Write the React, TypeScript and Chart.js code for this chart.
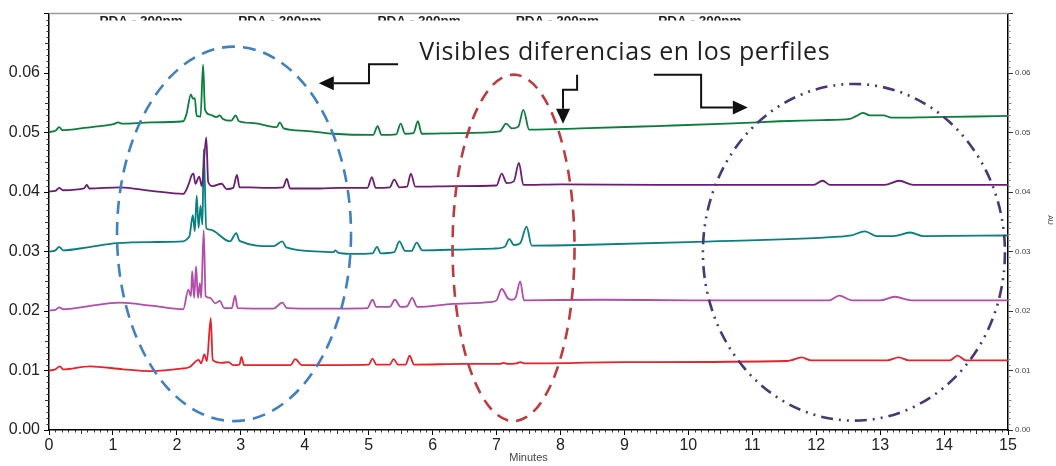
import React, { useEffect, useRef } from 'react';
import { Chart, registerables } from 'chart.js';

Chart.register(...registerables);

const W = 1056;
const H = 466;

// ---- data: [minutes, AU] ----
const greenTrace: [number, number][] = [
  [0.00, 0.0501], [0.10, 0.0503], [0.16, 0.0509], [0.21, 0.0504], [0.50, 0.0507], [0.80, 0.0511],
  [1.01, 0.0514], [1.08, 0.0517], [1.15, 0.0515], [1.60, 0.0517], [2.10, 0.0519], [2.15, 0.0531],
  [2.22, 0.0564], [2.25, 0.0557], [2.28, 0.0558], [2.31, 0.0528], [2.37, 0.0527], [2.41, 0.0614],
  [2.44, 0.0539], [2.52, 0.0530], [2.62, 0.0526], [2.67, 0.0529], [2.72, 0.0523], [2.85, 0.0520],
  [2.92, 0.0529], [2.97, 0.0519], [3.20, 0.0516], [3.56, 0.0509], [3.61, 0.0517], [3.67, 0.0507],
  [4.00, 0.0503], [4.45, 0.0498], [5.07, 0.0496], [5.14, 0.0511], [5.20, 0.0496], [5.43, 0.0497],
  [5.50, 0.0515], [5.57, 0.0498], [5.70, 0.0499], [5.77, 0.0519], [5.83, 0.0498], [6.40, 0.0499],
  [7.05, 0.0502], [7.15, 0.0515], [7.24, 0.0507], [7.34, 0.0510], [7.42, 0.0538], [7.51, 0.0505],
  [8.31, 0.0507], [9.50, 0.0511], [10.60, 0.0515], [11.43, 0.0519], [12.10, 0.0521], [12.53, 0.0523],
  [12.63, 0.0528], [12.73, 0.0533], [12.84, 0.0529], [13.05, 0.0529], [13.18, 0.0525], [13.83, 0.0526],
  [14.50, 0.0527], [15.00, 0.0528],
];

const purpleTrace: [number, number][] = [
  [0.00, 0.0401], [0.10, 0.0402], [0.16, 0.0407], [0.22, 0.0403], [0.55, 0.0406], [0.59, 0.0412],
  [0.63, 0.0406], [1.11, 0.0408], [1.60, 0.0402], [2.10, 0.0397], [2.18, 0.0412], [2.23, 0.0428],
  [2.26, 0.0431], [2.29, 0.0414], [2.35, 0.0426], [2.39, 0.0410], [2.46, 0.0492], [2.49, 0.0417],
  [2.56, 0.0410], [2.70, 0.0414], [2.78, 0.0405], [2.88, 0.0407], [2.94, 0.0429], [2.98, 0.0408],
  [3.13, 0.0408], [3.40, 0.0407], [3.66, 0.0408], [3.72, 0.0422], [3.77, 0.0406], [4.24, 0.0406],
  [4.55, 0.0407], [4.98, 0.0407], [5.05, 0.0425], [5.11, 0.0407], [5.33, 0.0408], [5.40, 0.0421],
  [5.48, 0.0408], [5.60, 0.0409], [5.66, 0.0431], [5.73, 0.0409], [6.40, 0.0410], [7.00, 0.0411],
  [7.08, 0.0431], [7.16, 0.0415], [7.27, 0.0418], [7.35, 0.0449], [7.42, 0.0412], [8.00, 0.0413],
  [9.50, 0.0412], [11.96, 0.0412], [12.10, 0.0419], [12.22, 0.0412], [13.07, 0.0412], [13.30, 0.0419],
  [13.52, 0.0412], [15.00, 0.0412],
];

const tealTrace: [number, number][] = [
  [0.00, 0.0300], [0.10, 0.0302], [0.16, 0.0308], [0.22, 0.0302], [0.60, 0.0307], [1.06, 0.0314],
  [1.60, 0.0316], [2.10, 0.0317], [2.17, 0.0322], [2.20, 0.0327], [2.25, 0.0361], [2.28, 0.0334],
  [2.31, 0.0394], [2.34, 0.0340], [2.37, 0.0377], [2.40, 0.0345], [2.42, 0.0472], [2.46, 0.0339],
  [2.52, 0.0337], [2.83, 0.0317], [2.93, 0.0331], [2.98, 0.0318], [3.51, 0.0309], [3.65, 0.0317],
  [3.71, 0.0307], [4.24, 0.0300], [4.45, 0.0299], [4.48, 0.0302], [4.52, 0.0298], [4.71, 0.0296],
  [5.06, 0.0297], [5.13, 0.0308], [5.19, 0.0297], [5.40, 0.0299], [5.48, 0.0317], [5.57, 0.0301],
  [5.67, 0.0301], [5.75, 0.0315], [5.84, 0.0302], [6.26, 0.0303], [6.95, 0.0305], [7.13, 0.0308],
  [7.20, 0.0321], [7.27, 0.0311], [7.37, 0.0314], [7.47, 0.0342], [7.55, 0.0310], [8.31, 0.0311],
  [10.00, 0.0316], [12.37, 0.0325], [12.55, 0.0327], [12.76, 0.0334], [12.95, 0.0326], [13.21, 0.0326],
  [13.47, 0.0332], [13.68, 0.0326], [15.00, 0.0327],
];

const magentaTrace: [number, number][] = [
  [0.00, 0.0201], [0.10, 0.0202], [0.16, 0.0206], [0.22, 0.0203], [0.60, 0.0208], [1.11, 0.0214],
  [1.60, 0.0209], [2.10, 0.0203], [2.18, 0.0236], [2.22, 0.0225], [2.24, 0.0267], [2.27, 0.0222],
  [2.30, 0.0275], [2.33, 0.0222], [2.36, 0.0247], [2.38, 0.0222], [2.42, 0.0336], [2.45, 0.0225],
  [2.52, 0.0222], [2.60, 0.0213], [2.67, 0.0217], [2.74, 0.0205], [2.86, 0.0205], [2.91, 0.0226],
  [2.95, 0.0205], [3.51, 0.0204], [3.65, 0.0214], [3.72, 0.0205], [4.24, 0.0204], [4.98, 0.0205],
  [5.06, 0.0219], [5.12, 0.0207], [5.33, 0.0207], [5.41, 0.0219], [5.50, 0.0207], [5.60, 0.0208],
  [5.68, 0.0222], [5.76, 0.0207], [6.32, 0.0212], [6.90, 0.0215], [7.00, 0.0218], [7.08, 0.0237],
  [7.18, 0.0221], [7.24, 0.0219], [7.30, 0.0223], [7.37, 0.0250], [7.43, 0.0218], [8.62, 0.0219],
  [10.00, 0.0218], [12.20, 0.0218], [12.36, 0.0226], [12.56, 0.0218], [13.00, 0.0218], [13.23, 0.0224],
  [13.49, 0.0218], [15.00, 0.0218],
];

const redTrace: [number, number][] = [
  [0.00, 0.0100], [0.10, 0.0102], [0.17, 0.0107], [0.22, 0.0102], [0.64, 0.0107], [1.16, 0.0102],
  [1.58, 0.0099], [2.06, 0.0103], [2.20, 0.0106], [2.34, 0.0118], [2.38, 0.0112], [2.43, 0.0127],
  [2.47, 0.0116], [2.53, 0.0188], [2.56, 0.0118], [2.70, 0.0113], [2.81, 0.0114], [2.88, 0.0109],
  [2.98, 0.0110], [3.01, 0.0123], [3.05, 0.0109], [3.78, 0.0109], [3.85, 0.0119], [3.96, 0.0109],
  [5.00, 0.0110], [5.06, 0.0120], [5.12, 0.0110], [5.33, 0.0110], [5.39, 0.0119], [5.46, 0.0110],
  [5.58, 0.0110], [5.64, 0.0125], [5.71, 0.0110], [6.50, 0.0111], [7.05, 0.0111], [7.11, 0.0113],
  [7.18, 0.0111], [7.31, 0.0112], [7.37, 0.0114], [7.45, 0.0112], [9.00, 0.0114], [11.54, 0.0116],
  [11.60, 0.0117], [11.77, 0.0122], [11.92, 0.0117], [13.11, 0.0117], [13.29, 0.0122], [13.45, 0.0117],
  [14.09, 0.0117], [14.21, 0.0125], [14.34, 0.0117], [15.00, 0.0117],
];

const seriesColors = ['#0b7d3e', '#6c1c74', '#0a7f7f', '#b24ca8', '#e8212b'];
const seriesData = [greenTrace, purpleTrace, tealTrace, magentaTrace, redTrace];

// ---- tick labels / texts ----
const yTickLabels = ['0.00', '0.01', '0.02', '0.03', '0.04', '0.05', '0.06'];
const xTitle = 'Minutes';
const yRightTitle = 'AU';
const pdaLabel = 'PDA - 200nm';
const pdaLabelTimes = [1.44, 3.61, 5.79, 7.95, 10.18];
const calloutText = 'Visibles diferencias en los perfiles';
const calloutAnchor: [number, number] = [5.79, 0.0622];

// ---- annotation shapes in data units ----
const ellipses = [
  { cx: 2.894, rx: 1.83, cy: 0.03297, ry: 0.03147, color: '#3f80c2', dash: [13, 8] },
  { cx: 7.266, rx: 0.954, cy: 0.03062, ry: 0.02912, color: '#c0393f', dash: [12, 8] },
  { cx: 12.59, rx: 2.362, cy: 0.02987, ry: 0.0283, color: '#4b3678', dash: [12, 6, 2, 6, 2, 6] },
];

const arrows: [number, number][][] = [
  [[5.46, 0.0615], [5.005, 0.0615], [5.005, 0.0583], [4.22, 0.0583]],
  [[8.26, 0.0597], [8.26, 0.0572], [8.04, 0.0572], [8.04, 0.0515]],
  [[9.46, 0.0597], [10.2, 0.0597], [10.2, 0.0542], [10.93, 0.0542]],
];

const FONT = '"Liberation Sans", Arial, sans-serif';

const overlayPlugin = {
  id: 'overlay',
  afterDatasetsDraw(chart: any) {
    const ctx: CanvasRenderingContext2D = chart.ctx;
    const xs = chart.scales.x;
    const ys = chart.scales.y;
    const px = (t: number) => xs.getPixelForValue(t);
    const py = (v: number) => ys.getPixelForValue(v);

    ellipses.forEach((e) => {
      ctx.save();
      ctx.beginPath();
      ctx.setLineDash(e.dash);
      ctx.strokeStyle = e.color;
      ctx.lineWidth = 2.6;
      const cx = px(e.cx);
      const cy = py(e.cy);
      ctx.ellipse(cx, cy, Math.abs(px(e.cx + e.rx) - cx), Math.abs(py(e.cy + e.ry) - cy), 0, 0, Math.PI * 2);
      ctx.stroke();
      ctx.restore();
    });

    arrows.forEach((path) => {
      const pts = path.map(([t, v]) => [px(t), py(v)]);
      const [tx, ty] = pts[pts.length - 1];
      const [bx, by] = pts[pts.length - 2];
      const len = Math.hypot(tx - bx, ty - by);
      const ux = (tx - bx) / len;
      const uy = (ty - by) / len;
      const headLen = 15;
      const headW = 7;
      const baseX = tx - ux * headLen;
      const baseY = ty - uy * headLen;
      ctx.save();
      ctx.strokeStyle = '#111';
      ctx.fillStyle = '#111';
      ctx.lineWidth = 2;
      ctx.lineJoin = 'miter';
      ctx.beginPath();
      ctx.moveTo(pts[0][0], pts[0][1]);
      for (let i = 1; i < pts.length - 1; i++) ctx.lineTo(pts[i][0], pts[i][1]);
      ctx.lineTo(baseX, baseY);
      ctx.stroke();
      ctx.beginPath();
      ctx.moveTo(tx, ty);
      ctx.lineTo(baseX - uy * headW, baseY + ux * headW);
      ctx.lineTo(baseX + uy * headW, baseY - ux * headW);
      ctx.closePath();
      ctx.fill();
      ctx.restore();
    });

    ctx.save();
    ctx.fillStyle = '#231f20';
    ctx.font = '25px "Open Sans", "Noto Sans", sans-serif';
    (ctx as any).letterSpacing = '0.6px';
    ctx.textBaseline = 'alphabetic';
    ctx.textAlign = 'left';
    ctx.fillText(calloutText, px(calloutAnchor[0]), py(calloutAnchor[1]), 411);
    ctx.restore();
  },
  afterDraw(chart: any) {
    const ctx: CanvasRenderingContext2D = chart.ctx;
    const xs = chart.scales.x;
    const ys = chart.scales.y;
    const { left, right, top, bottom } = chart.chartArea;

    // top border
    ctx.save();
    ctx.strokeStyle = '#9a9a9a';
    ctx.lineWidth = 1.5;
    ctx.beginPath();
    ctx.moveTo(left, top);
    ctx.lineTo(right, top);
    ctx.stroke();

    // minor ticks
    ctx.lineWidth = 1;
    ctx.strokeStyle = '#333';
    for (let i = 0; i <= 70; i++) {
      if (i % 10 === 0) continue;
      const y = Math.round(ys.getPixelForValue(i / 1000)) + 0.5;
      const l = i % 5 === 0 ? 4 : 2.5;
      ctx.beginPath();
      ctx.moveTo(left - l, y);
      ctx.lineTo(left, y);
      ctx.stroke();
    }
    for (let i = 0; i <= 150; i++) {
      if (i % 10 === 0) continue;
      const x = Math.round(xs.getPixelForValue(i / 10)) + 0.5;
      const l = i % 5 === 0 ? 4 : 2.5;
      ctx.beginPath();
      ctx.moveTo(x, bottom);
      ctx.lineTo(x, bottom + l);
      ctx.stroke();
    }
    ctx.strokeStyle = '#888';
    for (let i = 0; i <= 70; i++) {
      if (i % 10 === 0) continue;
      const y = Math.round(ys.getPixelForValue(i / 1000)) + 0.5;
      const l = i % 5 === 0 ? 3.5 : 2.5;
      ctx.beginPath();
      ctx.moveTo(right, y);
      ctx.lineTo(right + l, y);
      ctx.stroke();
    }

    // PDA labels (cut at the top)
    ctx.beginPath();
    ctx.rect(left, 0, right - left, 20.5);
    ctx.clip();
    ctx.fillStyle = '#222';
    ctx.font = `bold 13.5px ${FONT}`;
    ctx.textAlign = 'center';
    ctx.textBaseline = 'alphabetic';
    pdaLabelTimes.forEach((t) => ctx.fillText(pdaLabel, xs.getPixelForValue(t), 24.7));
    ctx.restore();

    // axis titles
    ctx.save();
    ctx.fillStyle = '#444';
    ctx.font = `11px ${FONT}`;
    ctx.textAlign = 'center';
    ctx.textBaseline = 'middle';
    ctx.fillText(xTitle, (left + right) / 2, 458);
    ctx.translate(1050, 220);
    ctx.rotate(Math.PI / 2);
    ctx.font = `7px ${FONT}`;
    ctx.fillText(yRightTitle, 0, 0);
    ctx.restore();
  },
};

export default function App() {
  const ref = useRef<HTMLCanvasElement | null>(null);

  useEffect(() => {
    if (!ref.current) return;
    const chart = new Chart(ref.current, {
      type: 'line',
      data: {
        datasets: seriesData.map((s, i) => ({
          data: s.map(([x, y]) => ({ x, y })),
          borderColor: seriesColors[i],
          borderWidth: 1.8,
          pointRadius: 0,
          fill: false,
          cubicInterpolationMode: 'monotone' as const,
        })),
      },
      options: {
        animation: false,
        responsive: false,
        maintainAspectRatio: false,
        layout: { padding: { top: 10, left: 0, right: 0, bottom: 0 } },
        plugins: { legend: { display: false }, tooltip: { enabled: false } },
        scales: {
          x: {
            type: 'linear',
            min: 0,
            max: 15,
            ticks: {
              stepSize: 1,
              autoSkip: false,
              maxRotation: 0,
              padding: 1,
              color: '#222',
              font: { family: FONT, size: 16 },
            },
            grid: { drawOnChartArea: false, tickLength: 5, color: '#000' },
            border: { color: '#000', width: 1.5 },
            afterFit: (s: any) => {
              s.height = 36;
            },
          },
          y: {
            type: 'linear',
            min: 0,
            max: 0.07,
            ticks: {
              stepSize: 0.01,
              padding: 4,
              color: '#222',
              font: { family: FONT, size: 16 },
              callback: (v: any) => {
                const idx = Math.round(Number(v) * 100);
                return yTickLabels[idx] ?? '';
              },
            },
            grid: { drawOnChartArea: false, tickLength: 5, color: '#000' },
            border: { color: '#000', width: 1.5 },
            afterFit: (s: any) => {
              s.width = 49;
            },
          },
          y2: {
            type: 'linear',
            position: 'right',
            min: 0,
            max: 0.07,
            ticks: {
              stepSize: 0.01,
              padding: 2,
              color: '#444',
              font: { family: FONT, size: 8 },
              callback: (v: any) => {
                const idx = Math.round(Number(v) * 100);
                return yTickLabels[idx] ?? '';
              },
            },
            grid: { drawOnChartArea: false, tickLength: 5, color: '#333' },
            border: { color: '#000', width: 1.5 },
            afterFit: (s: any) => {
              s.width = 48;
            },
          },
        },
      },
      plugins: [overlayPlugin],
    });
    return () => chart.destroy();
  }, []);

  return (
    <div style={{ position: 'fixed', left: 0, top: 0, width: W, height: H, background: '#fff' }}>
      <canvas ref={ref} width={W} height={H} style={{ display: 'block', width: W, height: H }} />
    </div>
  );
}
